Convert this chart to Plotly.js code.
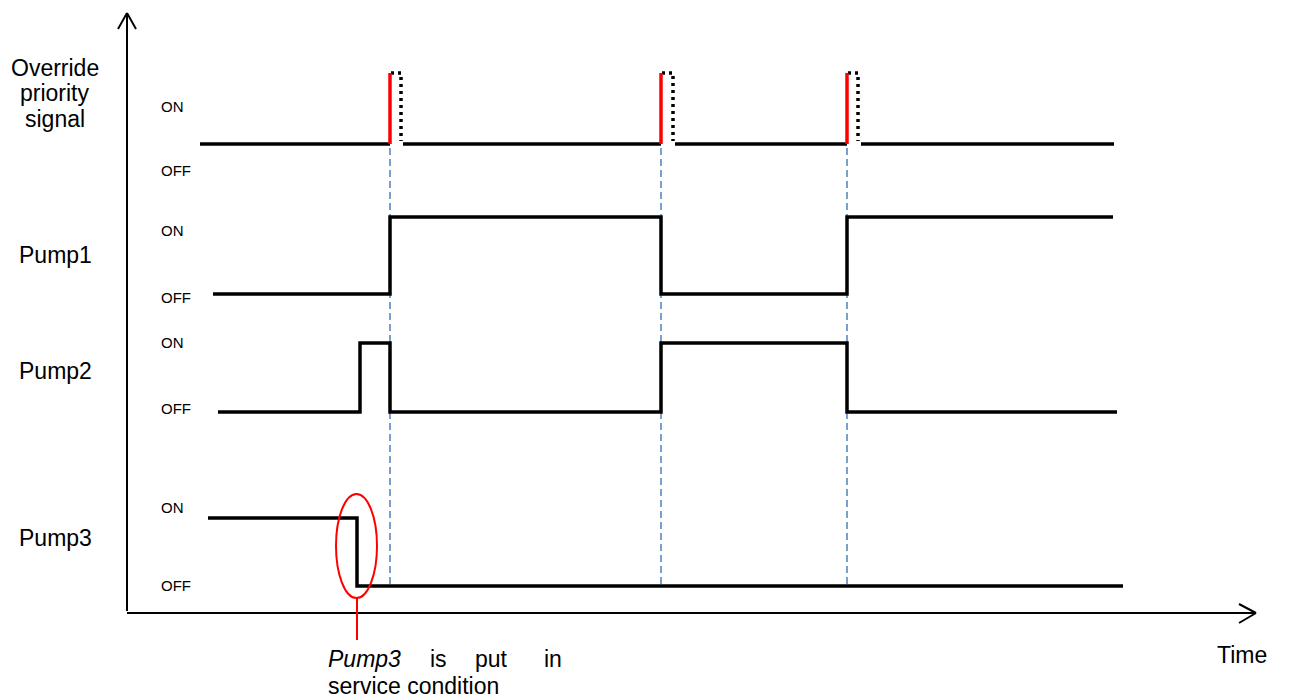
<!DOCTYPE html>
<html>
<head>
<meta charset="utf-8">
<script src="https://cdn.plot.ly/plotly-3.0.1.min.js"></script>
<style>html,body{margin:0;padding:0;background:#fff;}#chart{width:1289px;height:700px;}</style>
</head>
<body>
<div id="chart"></div>
<script>
// ---- data (time axis units, state 0 = OFF, 1 = ON) ----
const rowNames = ["Override priority signal", "Pump1", "Pump2", "Pump3"];
const overrideStart = 200;
const overrideEnd = 1114;
const overridePulseOn = [390, 661, 847];
const overridePulseOff = [401, 673, 858];
const overrideResume = [403, 675, 861];
const switchTimes = [390, 661, 847];

const pump1Times = [213, 390, 661, 847, 1113];
const pump1States = [0, 1, 0, 1, 1];
const pump2Times = [218, 360, 390, 661, 847, 1117];
const pump2States = [0, 1, 0, 1, 0, 0];
const pump3Times = [208, 357, 1123];
const pump3States = [1, 0, 0];
const serviceTime = 357;

// ---- layout of rows (vertical levels) ----
const rows = {
  override: {off: 144, on: 73, label: ["Override", "priority", "signal"], labelY: [67.5, 92.5, 118.5], onY: 106, offY: 170},
  pump1: {off: 294, on: 217, label: ["Pump1"], labelY: [254.5], onY: 230, offY: 297},
  pump2: {off: 412, on: 343, label: ["Pump2"], labelY: [371], onY: 342, offY: 408},
  pump3: {off: 586, on: 518, label: ["Pump3"], labelY: [537.5], onY: 507, offY: 585}
};

const FONT = "Liberation Sans, Arial, sans-serif";
const traces = [];

// dashed switching guides
switchTimes.forEach(t => {
  traces.push({x: [t, t], y: [148, 586], mode: "lines", hoverinfo: "skip",
    line: {color: "#4f81bd", width: 1.5, dash: "7px,4px"}});
});

function stepTrace(times, states, row) {
  return {x: times, y: states.map(s => s ? row.on : row.off), mode: "lines",
    line: {shape: "hv", color: "#000", width: 3.5}, hoverinfo: "skip"};
}

// override baseline
const ovStarts = [overrideStart].concat(overrideResume);
const ovEnds = overridePulseOn.concat([overrideEnd]);
const bx = [], by = [];
ovStarts.forEach((s, i) => { bx.push(s, ovEnds[i], null); by.push(rows.override.off, rows.override.off, null); });
traces.push({x: bx, y: by, mode: "lines", line: {color: "#000", width: 3.5}, hoverinfo: "skip"});

// dotted pulses
overridePulseOn.forEach((t, i) => {
  traces.push({x: [t + 1, overridePulseOff[i], overridePulseOff[i]],
    y: [rows.override.on, rows.override.on, rows.override.off - 3], mode: "lines",
    line: {color: "#000", width: 3.5, dash: "3px,4px"}, hoverinfo: "skip"});
});
// red rising edges
overridePulseOn.forEach(t => {
  traces.push({x: [t, t], y: [rows.override.off, rows.override.on], mode: "lines",
    line: {color: "#ff0000", width: 3.5}, hoverinfo: "skip"});
});

traces.push(stepTrace(pump1Times, pump1States, rows.pump1));
traces.push(stepTrace(pump2Times, pump2States, rows.pump2));
traces.push(stepTrace(pump3Times, pump3States, rows.pump3));

// ---- annotations ----
const ann = [];
Object.values(rows).forEach(r => {
  r.label.forEach((txt, i) => ann.push({x: 55, y: r.labelY[i], text: txt, showarrow: false,
    xanchor: "center", yanchor: "middle", font: {family: FONT, size: 23, color: "#000"}}));
  ann.push({x: 159, y: r.onY, text: "ON", showarrow: false, xanchor: "left", yanchor: "middle",
    font: {family: FONT, size: 15, color: "#000"}});
  ann.push({x: 159, y: r.offY, text: "OFF", showarrow: false, xanchor: "left", yanchor: "middle",
    font: {family: FONT, size: 15, color: "#000"}});
});
ann.push({x: 1242, y: 655, text: "Time", showarrow: false, xanchor: "center", yanchor: "middle",
  font: {family: FONT, size: 23, color: "#000"}});
const f23 = {family: FONT, size: 23, color: "#000"};
ann.push({x: 326, y: 659, text: "<i>Pump3</i>", showarrow: false, xanchor: "left", yanchor: "middle", font: f23});
ann.push({x: 428, y: 659, text: "is", showarrow: false, xanchor: "left", yanchor: "middle", font: f23});
ann.push({x: 473, y: 659, text: "put", showarrow: false, xanchor: "left", yanchor: "middle", font: f23});
ann.push({x: 542, y: 659, text: "in", showarrow: false, xanchor: "left", yanchor: "middle", font: f23});
ann.push({x: 326, y: 686, text: "service condition", showarrow: false, xanchor: "left", yanchor: "middle", font: f23});

// ---- shapes: axes with arrows, ellipse, callout ----
const ax = {color: "#000", width: 2};
const shapes = [
  {type: "line", x0: 127, x1: 127, y0: 611, y1: 13, line: ax},
  {type: "line", x0: 127, x1: 118, y0: 13, y1: 29, line: ax},
  {type: "line", x0: 127, x1: 136, y0: 13, y1: 29, line: ax},
  {type: "line", x0: 127, x1: 1256, y0: 613, y1: 613, line: ax},
  {type: "line", x0: 1256, x1: 1239, y0: 613, y1: 604, line: ax},
  {type: "line", x0: 1256, x1: 1239, y0: 613, y1: 623, line: ax},
  {type: "circle", x0: serviceTime - 21, x1: serviceTime + 20, y0: 494, y1: 598, line: {color: "#ff0000", width: 2}},
  {type: "line", x0: serviceTime, x1: serviceTime, y0: 598, y1: 640, line: {color: "#ff0000", width: 2}}
];

const layout = {
  width: 1289, height: 700, margin: {l: 0, r: 0, t: 0, b: 0},
  paper_bgcolor: "#fff", plot_bgcolor: "#fff", showlegend: false,
  xaxis: {range: [0, 1289], visible: false, fixedrange: true},
  yaxis: {range: [700, 0], visible: false, fixedrange: true},
  annotations: ann, shapes: shapes
};
Plotly.newPlot("chart", traces, layout, {staticPlot: true, displayModeBar: false});
</script>
</body>
</html>
